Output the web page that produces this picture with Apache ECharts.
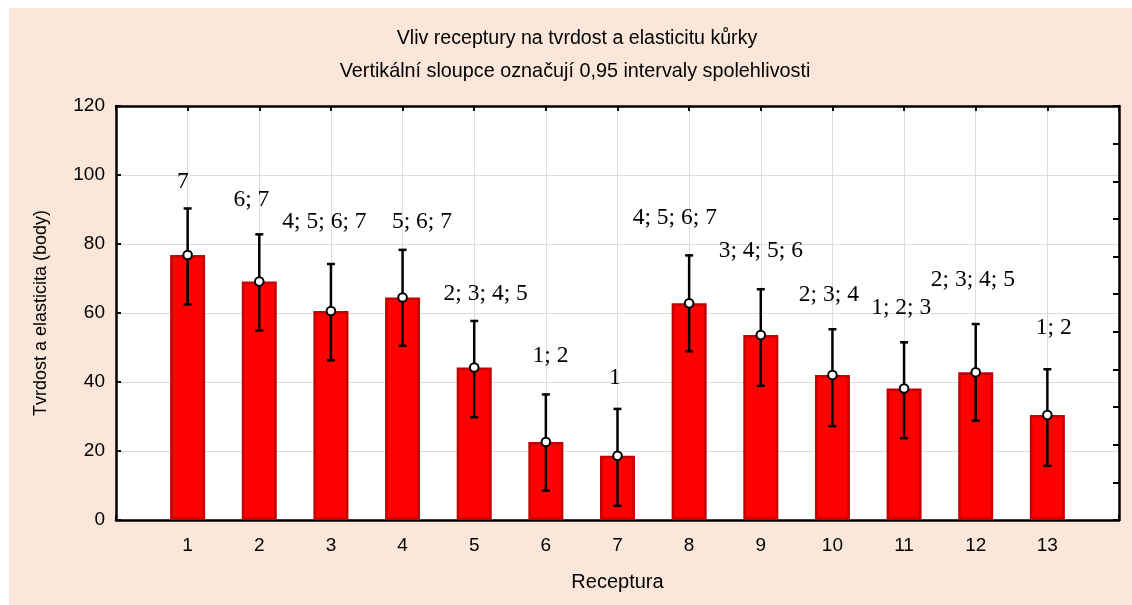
<!DOCTYPE html>
<html><head><meta charset="utf-8">
<script src="https://cdn.jsdelivr.net/npm/echarts@6/dist/echarts.min.js"></script>
<style>html,body{margin:0;padding:0;background:#fff}#c{position:absolute;left:9px;top:8px;width:1123px;height:597px}</style>
</head><body><div id="c"></div>
<script>
// ---- data ----
const categories = ['1','2','3','4','5','6','7','8','9','10','11','12','13'];
const means = [76.8, 69.1, 60.6, 64.5, 44.2, 22.6, 18.6, 62.8, 53.6, 42.0, 38.1, 42.8, 30.4];
const upper = [90.3, 82.8, 74.2, 78.3, 57.7, 36.4, 32.2, 76.7, 66.9, 55.3, 51.5, 56.8, 43.7];
const lower = [62.5, 54.9, 46.3, 50.5, 29.8, 8.5, 4.1, 48.9, 38.9, 27.2, 23.7, 28.8, 15.7];
const groupLabels = ['7','6; 7','4; 5; 6; 7','5; 6; 7','2; 3; 4; 5','1; 2','1','4; 5; 6; 7','3; 4; 5; 6','2; 3; 4','1; 2; 3','2; 3; 4; 5','1; 2'];
// annotation anchors in data units (x along category index, y in points)
const labelAnchorX = [0.935, 1.89, 2.91, 4.27, 5.16, 6.065, 6.965, 7.80, 9.00, 9.95, 10.96, 11.96, 13.09];
const labelAnchorY = [98.1, 92.9, 86.5, 86.5, 65.7, 47.5, 41.3, 87.5, 78.0, 65.2, 61.4, 69.6, 55.6];
const yTicks = { min: 0, max: 120, interval: 20 };
const titleLines = ['Vliv receptury na tvrdost a elasticitu kůrky', 'Vertikální sloupce označují 0,95 intervaly spolehlivosti'];

const chart = echarts.init(document.getElementById('c'), null, { renderer: 'canvas' });
const sans = '"Liberation Sans", Arial, sans-serif';
const serif = '"Liberation Serif", "Times New Roman", serif';

const barData = categories.map((c, i) => [i + 1, means[i]]);
const errData = categories.map((c, i) => [i + 1, lower[i], upper[i], means[i]]);
const lblData = groupLabels.map((t, i) => [labelAnchorX[i], labelAnchorY[i], t]);

chart.setOption({
  backgroundColor: '#fbe7da',
  animation: false,
  graphic: [
    { type: 'text', x: 568, y: 30.5, style: { text: titleLines[0], font: '19.6px ' + sans, fill: '#000', align: 'center', verticalAlign: 'middle' } },
    { type: 'text', x: 566, y: 64, style: { text: titleLines[1], font: '19.8px ' + sans, fill: '#000', align: 'center', verticalAlign: 'middle' } }
  ],
  grid: { left: 107, top: 98, right: 13, bottom: 85, show: true, backgroundColor: '#fff', borderWidth: 0 },
  xAxis: [
    {
      type: 'value', min: 0, max: 14, interval: 1, position: 'bottom',
      name: 'Receptura', nameLocation: 'middle', nameGap: 52,
      nameTextStyle: { fontFamily: sans, fontSize: 20, color: '#000' },
      axisLine: { show: true, onZero: false, lineStyle: { color: '#000', width: 2.5 } },
      axisTick: { show: true, inside: true, length: 5, lineStyle: { color: '#000', width: 2 } },
      axisLabel: { margin: 16, fontFamily: sans, fontSize: 19, color: '#000',
        formatter: v => (v >= 1 && v <= categories.length) ? categories[v - 1] : '' },
      splitLine: { show: true, lineStyle: { color: '#dcdcdc', width: 1 } }
    },
    {
      type: 'value', min: 0, max: 14, interval: 1, position: 'top',
      axisLine: { show: true, onZero: false, lineStyle: { color: '#000', width: 2.5 } },
      axisTick: { show: true, inside: true, length: 5, lineStyle: { color: '#000', width: 2 } },
      axisLabel: { show: false }, splitLine: { show: false }
    }
  ],
  yAxis: [
    {
      type: 'value', min: yTicks.min, max: yTicks.max, interval: yTicks.interval, position: 'left',
      name: 'Tvrdost a elasticita (body)', nameLocation: 'middle', nameGap: 66, nameRotate: 90,
      nameTextStyle: { fontFamily: sans, fontSize: 18, color: '#000' },
      axisLine: { show: true, onZero: false, lineStyle: { color: '#000', width: 2.5 } },
      axisTick: { show: true, inside: true, length: 5, lineStyle: { color: '#000', width: 2 } },
      axisLabel: { margin: 11, fontFamily: sans, fontSize: 19, color: '#000' },
      splitLine: { show: true, lineStyle: { color: '#dcdcdc', width: 1 } }
    },
    {
      type: 'value', min: 0, max: 11, interval: 1, position: 'right',
      axisLine: { show: true, onZero: false, lineStyle: { color: '#000', width: 2.5 } },
      axisTick: { show: true, inside: true, length: 6, lineStyle: { color: '#000', width: 2 } },
      axisLabel: { show: false }, splitLine: { show: false }
    }
  ],
  series: [
    {
      type: 'bar', xAxisIndex: 0, yAxisIndex: 0, data: barData, barWidth: 35,
      itemStyle: { color: '#ff0000', borderColor: '#c40000', borderWidth: 2.5 }
    },
    {
      type: 'custom', xAxisIndex: 0, yAxisIndex: 0, data: errData,
      encode: { x: 0, y: [1, 2] }, z: 5,
      renderItem: (params, api) => {
        const x = api.value(0);
        const lo = api.coord([x, api.value(1)]);
        const hi = api.coord([x, api.value(2)]);
        const m = api.coord([x, api.value(3)]);
        const cw = 4;
        const ls = { stroke: '#000', lineWidth: 2.5 };
        return { type: 'group', children: [
          { type: 'line', shape: { x1: hi[0], y1: hi[1], x2: lo[0], y2: lo[1] }, style: ls },
          { type: 'line', shape: { x1: hi[0] - cw, y1: hi[1], x2: hi[0] + cw, y2: hi[1] }, style: ls },
          { type: 'line', shape: { x1: lo[0] - cw, y1: lo[1], x2: lo[0] + cw, y2: lo[1] }, style: ls },
          { type: 'circle', shape: { cx: m[0], cy: m[1], r: 4.3 }, style: { fill: '#fff', stroke: '#000', lineWidth: 2 } }
        ] };
      }
    },
    {
      type: 'custom', xAxisIndex: 0, yAxisIndex: 0, data: lblData, z: 6,
      encode: { x: 0, y: 1 },
      renderItem: (params, api) => {
        const p = api.coord([api.value(0), api.value(1)]);
        return { type: 'text', x: p[0], y: p[1],
          style: { text: groupLabels[params.dataIndex], font: '23.5px ' + serif, fill: '#000', align: 'center', verticalAlign: 'middle' } };
      }
    }
  ]
});
</script>
</body></html>
